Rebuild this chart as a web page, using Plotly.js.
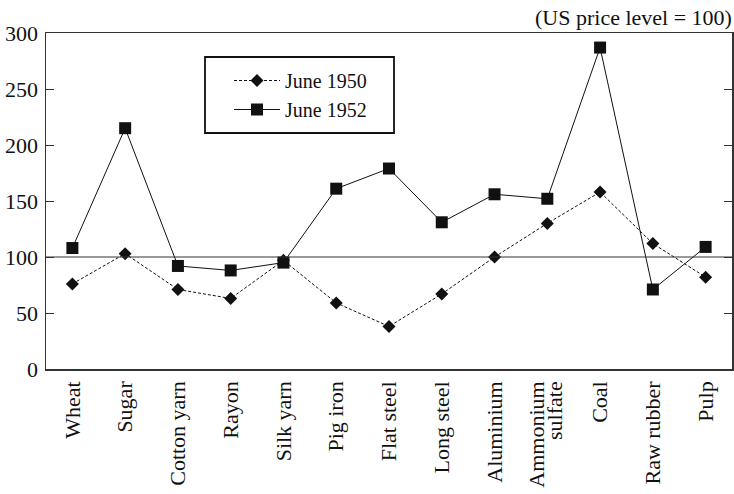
<!DOCTYPE html>
<html>
<head>
<meta charset="utf-8">
<script src="https://cdn.plot.ly/plotly-3.0.1.min.js"></script>
<style>html,body{margin:0;padding:0;background:#fff;}#chart{width:734px;height:494px;}</style>
</head>
<body>
<div id="chart"></div>
<script>
const categories = ["Wheat","Sugar","Cotton yarn","Rayon","Silk yarn","Pig iron","Flat steel","Long steel","Aluminium","Ammonium<br>sulfate","Coal","Raw rubber","Pulp"];
const june1950 = [76,103,71,63,97,59,38,67,100,130,158,112,82];
const june1952 = [108,215,92,88,95,161,179,131,156,152,287,71,109];
const yTicks = [0,50,100,150,200,250,300];
const FONT = "'Liberation Serif', 'Times New Roman', serif";
const xIdx = categories.map((c,i)=>i);

const traces = [
  {x:xIdx, y:june1950, name:"June 1950", type:"scatter", mode:"lines+markers",
   line:{color:"#111", width:1, dash:"3px,2px"},
   marker:{symbol:"diamond", size:10, color:"#111"}},
  {x:xIdx, y:june1952, name:"June 1952", type:"scatter", mode:"lines+markers",
   line:{color:"#111", width:1},
   marker:{symbol:"square", size:12, color:"#111"}}
];

// plot area: x 46..732, y 33..369  (686 x 336)
const L = 46, T = 33, W = 686, H = 336;
const px = v => (v - L) / W;
const py = v => (T + H - v) / H;

const layout = {
  width:734, height:494,
  margin:{l:L, r:734 - L - W, t:T, b:494 - T - H},
  paper_bgcolor:"#fff", plot_bgcolor:"#fff",
  font:{family:FONT, size:22, color:"#111"},
  showlegend:true,
  legend:{x:px(229), y:py(61), xanchor:"left", yanchor:"top",
          borderwidth:0, bgcolor:"rgba(0,0,0,0)", itemwidth:46,
          font:{family:FONT, size:20, color:"#111"}},
  xaxis:{range:[-0.5,12.5], tickmode:"array", tickvals:xIdx, ticktext:categories,
         tickangle:-90, ticks:"", showgrid:false, zeroline:false, ticklabelstandoff:2,
         showline:true, linecolor:"#333", linewidth:1.5, mirror:true,
         tickfont:{family:FONT, size:22, color:"#111"}, fixedrange:true},
  yaxis:{range:[0,300], tickmode:"array", tickvals:yTicks, ticks:"inside", ticklen:8,
         tickcolor:"#333", tickwidth:1, showgrid:false, zeroline:false, ticklabelstandoff:2,
         showline:true, linecolor:"#333", linewidth:1.5, mirror:"ticks",
         tickfont:{family:FONT, size:22, color:"#111"}, fixedrange:true},
  shapes:[
    {type:"line", xref:"paper", x0:0, x1:1, yref:"y", y0:100, y1:100,
     line:{color:"#333", width:1}},
    {type:"rect", xref:"paper", yref:"paper", x0:px(205), x1:px(394), y0:py(57), y1:py(133),
     line:{color:"#111", width:1.8}, fillcolor:"rgba(0,0,0,0)", layer:"above"}
  ],
  annotations:[{text:"(US price level = 100)", xref:"paper", x:1.0, xanchor:"right", xshift:2,
                yref:"paper", y:1.0, yanchor:"bottom", yshift:1, showarrow:false,
                font:{family:FONT, size:22, color:"#111"}}]
};

Plotly.newPlot("chart", traces, layout, {displayModeBar:false, staticPlot:true}).then(gd => {
  // tighten line spacing of two-line tick labels
  gd.querySelectorAll('.xtick text').forEach(t => {
    const lines = t.querySelectorAll('tspan.line');
    if (lines.length > 1) {
      const r0 = t.getBoundingClientRect();
      for (let i = 1; i < lines.length; i++) lines[i].setAttribute('dy', '0.82em');
      const r1 = t.getBoundingClientRect();
      const dx = (r0.left + r0.right) / 2 - (r1.left + r1.right) / 2 - 1;
      t.setAttribute('transform', 'translate(' + dx + ',0) ' + (t.getAttribute('transform') || ''));
    }
  });
});
</script>
</body>
</html>
